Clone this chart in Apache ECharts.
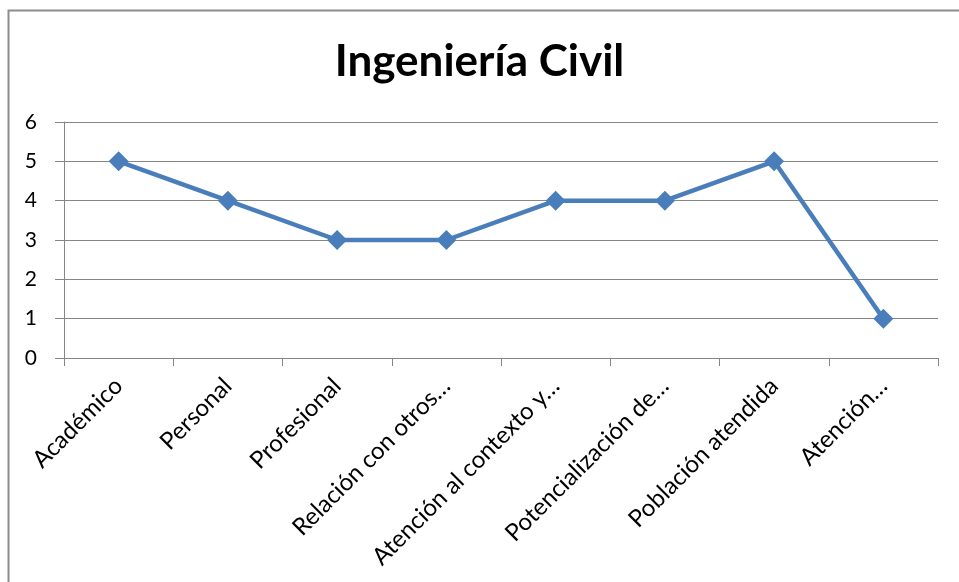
<!DOCTYPE html>
<html>
<head>
<meta charset="utf-8">
<script src="https://cdn.jsdelivr.net/npm/echarts@6/dist/echarts.min.js"></script>
<style>
  html, body { margin: 0; padding: 0; background: #fff; }
  #chart { width: 959px; height: 582px; }
</style>
</head>
<body>
<div id="chart"></div>
<script>
const categories = ['Académico', 'Personal', 'Profesional', 'Relación con otros…', 'Atención al contexto y…', 'Potencialización de…', 'Población atendida', 'Atención…']
const values = [5, 4, 3, 3, 4, 4, 5, 1]
const yTicks = [0, 1, 2, 3, 4, 5, 6]

const font = 'Lato, "Open Sans", sans-serif'
const axisGray = '#868686'

const chart = echarts.init(document.getElementById('chart'))
chart.setOption({
    animation: false,
    graphic: [{
        type: 'rect',
        shape: { x: 8.5, y: 10.5, width: 1000, height: 1000 },
        style: { fill: 'none', stroke: '#8c8c8c', lineWidth: 2 }
    }],
    title: {
        text: 'Ingeniería Civil',
        left: 'center',
        top: 35,
        textStyle: { fontFamily: font, fontSize: 44, fontWeight: 'bold', color: '#000' }
    },
    grid: { left: 64, right: 21, top: 122, bottom: 224 },
    xAxis: {
        type: 'category',
        data: categories,
        boundaryGap: true,
        axisLine: { lineStyle: { color: axisGray, width: 1 } },
        axisTick: { show: true, length: 8, lineStyle: { color: axisGray } },
        axisLabel: {
            rotate: 45,
            interval: 0,
            margin: 24,
            fontFamily: font,
            fontSize: 24,
            color: '#000'
        }
    },
    yAxis: {
        type: 'value',
        min: yTicks[0],
        max: yTicks[yTicks.length - 1],
        interval: 1,
        axisLine: { show: true, lineStyle: { color: axisGray, width: 1 } },
        axisTick: { show: true, length: 9, lineStyle: { color: axisGray } },
        splitLine: { lineStyle: { color: axisGray, width: 1 } },
        axisLabel: { margin: 27, fontFamily: font, fontSize: 21, color: '#000' }
    },
    series: [{
        type: 'line',
        data: values,
        symbol: 'diamond',
        symbolSize: 20,
        lineStyle: { color: '#4a7ebb', width: 4.5 },
        itemStyle: { color: '#4a7ebb' }
    }]
})
</script>
</body>
</html>
